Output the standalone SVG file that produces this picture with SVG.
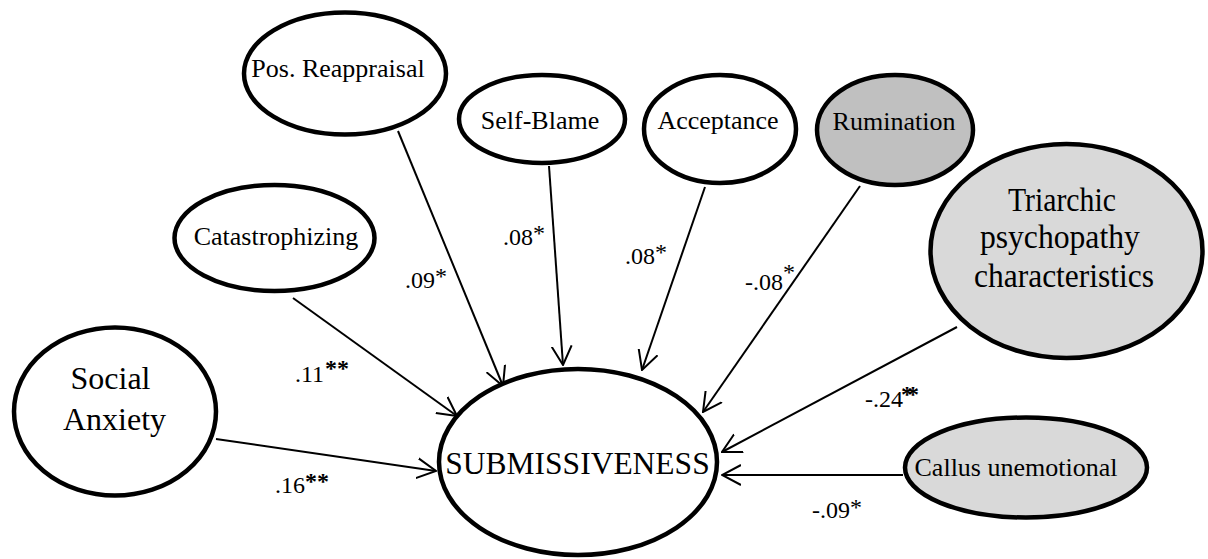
<svg xmlns="http://www.w3.org/2000/svg" width="1208" height="559" viewBox="0 0 1208 559">
  <defs>
    <style>
      .node { stroke: #000; stroke-width: 4.5; }
      .plain { fill: #fff; }
      .dark { fill: #c0c0c0; }
      .light { fill: #d9d9d9; }
      .lab { font-family: "Liberation Serif", "Times New Roman", serif; fill: #000; text-anchor: middle; }
      .coef { font-family: "Liberation Serif", "Times New Roman", serif; font-size: 24px; fill: #000; }
      .bold { font-weight: bold; }
      .edge { stroke: #000; stroke-width: 2; fill: none; marker-end: url(#vee); }
    </style>
    <!-- open V arrowhead -->
    <marker id="vee" viewBox="0 0 20 22" refX="19" refY="11" markerWidth="20" markerHeight="22" markerUnits="userSpaceOnUse" orient="auto">
      <path d="M0,1 L19,11 L0,21" fill="none" stroke="#000" stroke-width="2"/>
    </marker>
  </defs>

  <g id="connectors">
    <line class="edge" x1="216" y1="439" x2="436" y2="471"/>
    <line class="edge" x1="293" y1="298" x2="457" y2="416"/>
    <line class="edge" x1="398" y1="131" x2="503" y2="386"/>
    <line class="edge" x1="549" y1="166" x2="563" y2="365"/>
    <line class="edge" x1="705" y1="187" x2="642" y2="370"/>
    <line class="edge" x1="860" y1="186" x2="703" y2="412"/>
    <line class="edge" x1="957" y1="327" x2="722" y2="452"/>
    <line class="edge" x1="903" y1="475" x2="722" y2="475"/>
  </g>

  <g id="pos-reappraisal">
    <ellipse class="node plain" cx="345" cy="73.5" rx="101" ry="61"/>
    <text class="lab" x="338" y="77" font-size="26">Pos. Reappraisal</text>
  </g>

  <g id="self-blame">
    <ellipse class="node plain" cx="542" cy="119" rx="83" ry="44"/>
    <text class="lab" x="540" y="129" font-size="26">Self-Blame</text>
  </g>

  <g id="acceptance">
    <ellipse class="node plain" cx="720" cy="129" rx="76" ry="54"/>
    <text class="lab" x="718" y="129" font-size="26">Acceptance</text>
  </g>

  <g id="rumination">
    <ellipse class="node dark" cx="895" cy="130" rx="78" ry="55"/>
    <text class="lab" x="894" y="130" font-size="26">Rumination</text>
  </g>

  <g id="triarchic">
    <ellipse class="node light" cx="1066.5" cy="251" rx="136" ry="107"/>
    <text class="lab" font-size="33">
      <tspan x="1066" y="211" textLength="108" lengthAdjust="spacingAndGlyphs">Triarchic</tspan>
      <tspan x="1064" y="248" textLength="160" lengthAdjust="spacingAndGlyphs">psychopathy</tspan>
      <tspan x="1064" y="287" textLength="180" lengthAdjust="spacingAndGlyphs">characteristics</tspan>
    </text>
  </g>

  <g id="catastrophizing">
    <ellipse class="node plain" cx="274.5" cy="238" rx="100" ry="53"/>
    <text class="lab" x="276" y="245" font-size="26">Catastrophizing</text>
  </g>

  <g id="social-anxiety">
    <ellipse class="node plain" cx="115" cy="411.5" rx="101" ry="84"/>
    <text class="lab" font-size="32">
      <tspan x="114.5" y="389">Social</tspan>
      <tspan x="114.5" y="430">Anxiety</tspan>
    </text>
  </g>

  <g id="submissiveness">
    <ellipse class="node plain" cx="578" cy="462" rx="139" ry="93"/>
    <text class="lab" x="577.5" y="474" font-size="31.5">SUBMISSIVENESS</text>
  </g>

  <g id="callus-unemotional">
    <ellipse class="node light" cx="1026" cy="467.5" rx="121" ry="50"/>
    <text class="lab" x="1016" y="476" font-size="26">Callus unemotional</text>
  </g>

  <g id="coefficients">
    <text class="coef" x="275" y="493">.16<tspan class="bold" x="305" y="489">**</tspan></text>
    <text class="coef" x="295" y="382">.11<tspan class="bold" x="325" y="376">**</tspan></text>

    <text class="coef" x="405" y="288">.09<tspan dy="-4">*</tspan></text>
    <text class="coef" x="503" y="245">.08<tspan dy="-4">*</tspan></text>
    <text class="coef" x="625" y="264">.08<tspan dy="-4">*</tspan></text>
    <text class="coef" x="745" y="290">-.08<tspan dy="-10">*</tspan></text>

    <text class="coef" x="865" y="407">-.24<tspan class="bold" x="901" y="402" letter-spacing="-6">**</tspan></text>

    <text class="coef" x="812" y="518">-.09<tspan dy="-3">*</tspan></text>
  </g>
</svg>
